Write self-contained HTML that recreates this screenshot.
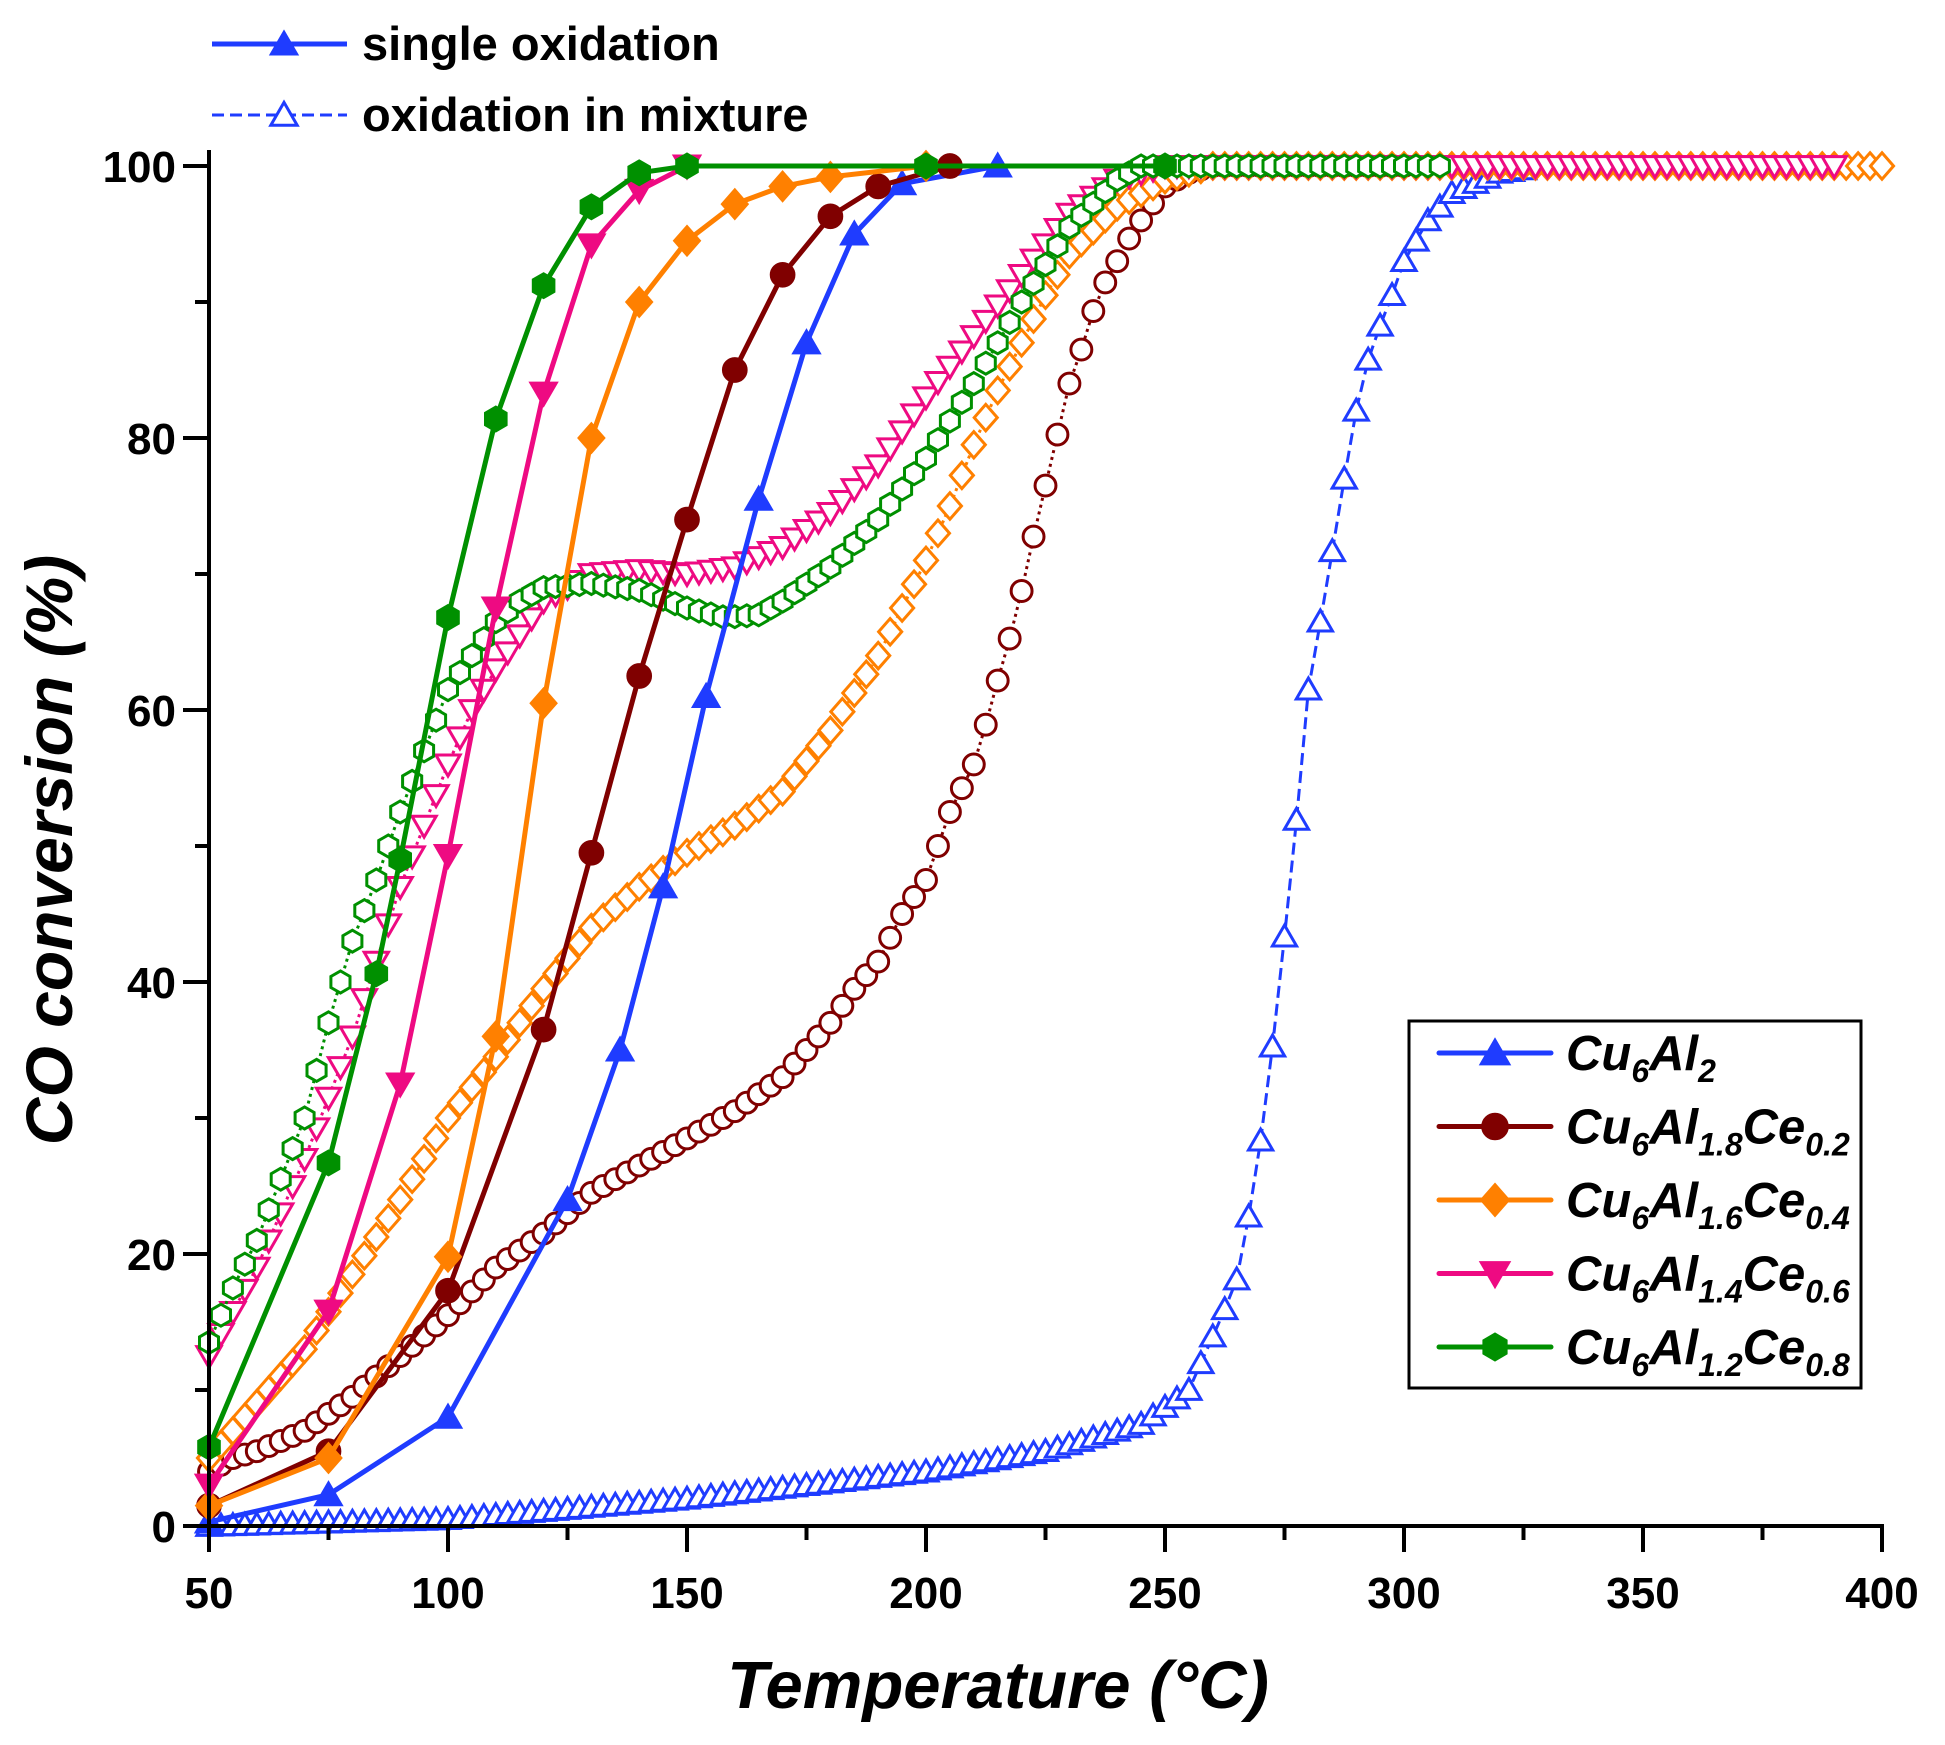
<!DOCTYPE html>
<html><head><meta charset="utf-8"><style>
html,body{margin:0;padding:0;background:#fff;}
svg{display:block;font-family:"Liberation Sans",Arial,sans-serif;}
</style></head><body>
<svg id="s" width="1945" height="1745" xmlns="http://www.w3.org/2000/svg"></svg>
<script>
const S=document.getElementById('s');
const X=t=>209+(t-50)*4.78, Y=v=>1526-v*13.6;
let h='';
const C={b:'#1f3cff',r:'#800000',o:'#ff8000',p:'#ee0a82',g:'#009000'};
function interp(pts,t){for(let i=0;i<pts.length-1;i++){const[a,av]=pts[i],[b,bv]=pts[i+1];if(t>=a&&t<=b){const u=(t-a)/(b-a);return av+(bv-av)*u;}}return pts[pts.length-1][1];}
function mk(type,x,y,c,fill,sz){const f=fill?c:'#fff';const sw=fill?1:3;const r=sz/2;
 if(type=='tu')return `<polygon points="${x},${y-r*1.05} ${x-r*1.1},${y+r*0.85} ${x+r*1.1},${y+r*0.85}" fill="${f}" stroke="${c}" stroke-width="${sw}"/>`;
 if(type=='td')return `<polygon points="${x},${y+r*1.05} ${x-r*1.1},${y-r*0.85} ${x+r*1.1},${y-r*0.85}" fill="${f}" stroke="${c}" stroke-width="${sw}"/>`;
 if(type=='c')return `<circle cx="${x}" cy="${y}" r="${r*0.95}" fill="${f}" stroke="${c}" stroke-width="${sw}"/>`;
 if(type=='d')return `<polygon points="${x},${y-r*1.2} ${x+r*1.05},${y} ${x},${y+r*1.2} ${x-r*1.05},${y}" fill="${f}" stroke="${c}" stroke-width="${sw}"/>`;
 if(type=='h'){let p=[];for(let k=0;k<6;k++){const a=Math.PI/6+k*Math.PI/3;p.push((x+r*Math.cos(a)).toFixed(1)+','+(y+r*Math.sin(a)).toFixed(1));}return `<polygon points="${p.join(' ')}" fill="${f}" stroke="${c}" stroke-width="${sw}"/>`;}
}
function open(pts,end,type,c,dash){const ts=[];for(let t=50;t<=end+0.01;t+=2.5)ts.push(t);
 const d=ts.map((t,i)=>(i?'L':'M')+X(t).toFixed(1)+','+Y(interp(pts,t)).toFixed(1)).join('');
 h+=`<path d="${d}" fill="none" stroke="${c}" stroke-width="3" stroke-dasharray="${dash}"/>`;
 ts.forEach(t=>h+=mk(type,X(t),Y(interp(pts,t)),c,false,22));}
open([[50,0],[100,0.5],[150,2],[200,4],[225,5.5],[245,7.5],[255,10],[262,15.5],[266,19],[268,24],[271,30.5],[274,40],[277,50],[280,61.5],[284,69.5],[287,76],[290,82],[293,86.5],[297,90],[300,93],[305,96],[310,98],[320,99.5],[330,100],[400,100]],325,'tu',C.b,'12 6');
open([[50,4],[55,5],[60,5.5],[70,7],[80,9.5],[90,12.5],[100,15.5],[110,19],[120,21.5],[130,24.5],[140,26.5],[150,28.5],[160,30.5],[170,33],[180,37],[185,39.5],[190,41.5],[195,45],[200,47.5],[205,52.5],[210,56],[213,59.5],[216,63.5],[219,67],[221,70.5],[224,75],[227,79.5],[230,84],[233,87],[236,90.5],[240,93],[243,95],[247,97],[250,98.5],[255,99.5],[260,100],[400,100]],300,'c',C.r,'3 4');
open([[50,5],[60,9],[70,13],[80,18.5],[90,24],[100,30],[110,34.5],[120,39.5],[130,44],[140,47],[150,49.5],[160,51.5],[170,54],[180,58.5],[190,64],[200,71],[205,75],[210,79.5],[215,83.5],[220,87],[225,90.5],[230,93.5],[240,97],[250,99],[260,100],[400,100]],400,'d',C.o,'3 4');
open([[50,12.5],[60,19],[70,27],[80,36],[90,47],[100,56],[105,60],[110,63],[120,68],[130,70],[140,70.3],[150,70],[160,70.5],[170,72],[180,74.5],[190,78],[200,83],[210,87.5],[220,92],[230,96.5],[240,99],[250,100],[400,100]],390,'td',C.p,'3 4');
open([[50,13.5],[55,17.5],[60,21],[65,25.5],[70,30],[75,37],[80,43],[85,47.5],[90,52.5],[95,57],[100,61.5],[105,64],[110,66.5],[115,68],[120,69],[130,69.3],[140,68.8],[150,67.5],[158,66.8],[165,67],[170,68],[180,70.5],[190,74],[200,78.5],[210,84],[220,90],[230,95.5],[240,99],[245,100],[400,100]],307.5,'h',C.g,'3 4');
function solid(pts,type,c){const d=pts.map((p,i)=>(i?'L':'M')+X(p[0]).toFixed(1)+','+Y(p[1]).toFixed(1)).join('');
 h+=`<path d="${d}" fill="none" stroke="${c}" stroke-width="5" stroke-linejoin="round"/>`;
 pts.forEach(p=>h+=mk(type,X(p[0]),Y(p[1]),c,true,26));}
solid([[50,0.3],[75,2.3],[100,8],[125,24],[136,35],[145,47],[154,61],[165,75.5],[175,87],[185,95],[195,98.7],[215,100]],'tu',C.b);
solid([[50,1.5],[75,5.5],[100,17.3],[120,36.5],[130,49.5],[140,62.5],[150,74],[160,85],[170,92],[180,96.3],[190,98.5],[205,100]],'c',C.r);
solid([[50,1.5],[75,5],[100,19.8],[110,36],[120,60.5],[130,80],[140,90],[150,94.5],[160,97.2],[170,98.5],[180,99.2],[200,100]],'d',C.o);
solid([[50,3],[75,15.8],[90,32.5],[100,49.3],[110,67.5],[120,83.3],[130,94.2],[140,98.2],[150,100]],'td',C.p);
solid([[50,5.8],[75,26.7],[85,40.6],[90,49],[100,66.8],[110,81.4],[120,91.2],[130,97],[140,99.5],[150,100],[200,100],[250,100]],'h',C.g);
h+=`<line x1="209" y1="150" x2="209" y2="1528" stroke="#000" stroke-width="4"/>`;
h+=`<line x1="207" y1="1526" x2="1884" y2="1526" stroke="#000" stroke-width="4"/>`;
for(let t=50;t<=400;t+=25){const maj=t%50==0;h+=`<line x1="${X(t)}" y1="1526" x2="${X(t)}" y2="${maj?1552:1540}" stroke="#000" stroke-width="4"/>`;
 if(maj)h+=`<text x="${X(t)}" y="1608" font-size="44" font-weight="bold" text-anchor="middle">${t}</text>`;}
for(let v=0;v<=100;v+=10){const maj=v%20==0;h+=`<line x1="209" y1="${Y(v)}" x2="${maj?183:195}" y2="${Y(v)}" stroke="#000" stroke-width="4"/>`;
 if(maj)h+=`<text x="176" y="${Y(v)+16}" font-size="44" font-weight="bold" text-anchor="end">${v}</text>`;}
h+=`<text x="998" y="1708" font-size="67" font-weight="bold" font-style="italic" text-anchor="middle">Temperature (°C)</text>`;
h+=`<text transform="translate(72,850) rotate(-90)" font-size="66" font-weight="bold" font-style="italic" text-anchor="middle">CO conversion (%)</text>`;
h+=`<line x1="212" y1="44" x2="347" y2="44" stroke="${C.b}" stroke-width="5"/>`+mk('tu',284,44,C.b,true,26);
h+=`<text x="362" y="60" font-size="47" font-weight="bold">single oxidation</text>`;
h+=`<line x1="212" y1="115" x2="347" y2="115" stroke="${C.b}" stroke-width="3" stroke-dasharray="12 6"/>`+mk('tu',284,115,C.b,false,24);
h+=`<text x="362" y="131" font-size="47" font-weight="bold">oxidation in mixture</text>`;
h+=`<rect x="1409" y="1021" width="452" height="367" fill="#fff" stroke="#000" stroke-width="3"/>`;
const L=[['tu',C.b,'2',''],['c',C.r,'1.8','0.2'],['d',C.o,'1.6','0.4'],['td',C.p,'1.4','0.6'],['h',C.g,'1.2','0.8']];
L.forEach((e,i)=>{const y=1053+i*73.5;h+=`<line x1="1439" y1="${y}" x2="1551" y2="${y}" stroke="${e[1]}" stroke-width="5" stroke-linecap="round"/>`+mk(e[0],1495,y,e[1],true,28);
 let t=`<tspan>Cu</tspan><tspan font-size="32" dy="12">6</tspan><tspan dy="-12">Al</tspan><tspan font-size="32" dy="12">${e[2]}</tspan>`;
 if(e[3])t+=`<tspan dy="-12">Ce</tspan><tspan font-size="32" dy="12">${e[3]}</tspan>`;
 h+=`<text x="1566" y="${y+17}" font-size="49" font-weight="bold" font-style="italic">${t}</text>`;});
S.innerHTML=h;
</script>
</body></html>
